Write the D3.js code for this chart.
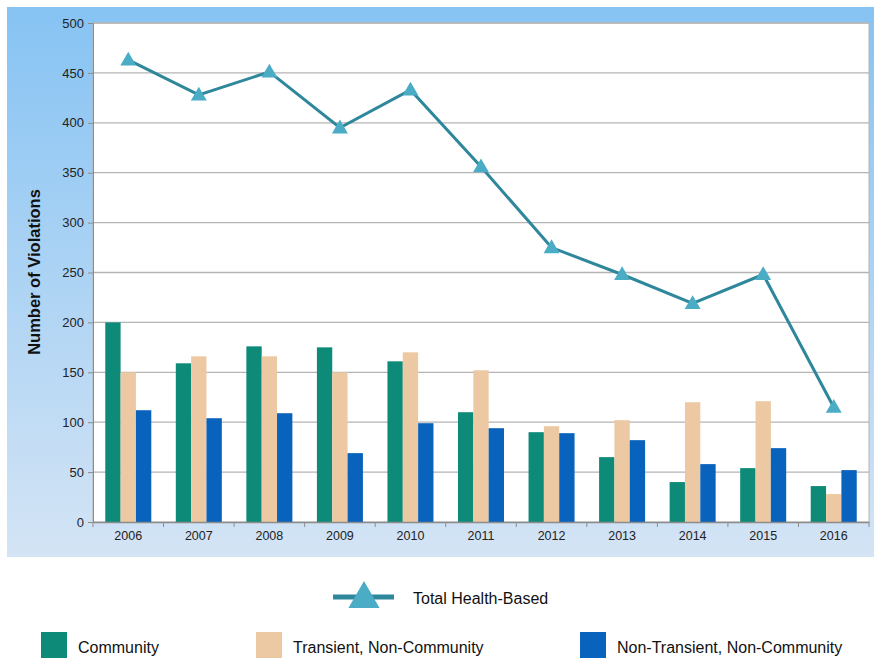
<!DOCTYPE html>
<html>
<head>
<meta charset="utf-8">
<script src="https://cdn.jsdelivr.net/npm/d3@7"></script>
<style>
  body { margin: 0; background: #fff; }
  svg { display: block; font-family: "Liberation Sans", Arial, sans-serif; }
</style>
</head>
<body>
<div id="chart"></div>
<script>
const years = ["2006", "2007", "2008", "2009", "2010", "2011", "2012", "2013", "2014", "2015", "2016"];
const community = [200, 159, 176, 175, 161, 110, 90, 65, 40, 54, 36];
const transient = [150, 166, 166, 150, 170, 152, 96, 102, 120, 121, 28];
const nonTransient = [112, 104, 109, 69, 99, 94, 89, 82, 58, 74, 52];
const totalHealth = [463, 428, 451, 395, 433, 356, 275, 248, 219, 248, 115];
const yTicks = [0, 50, 100, 150, 200, 250, 300, 350, 400, 450, 500];

const seriesNames = ["Community", "Transient, Non-Community", "Non-Transient, Non-Community"];
const seriesColors = ["#0e8a78", "#ecc9a2", "#0962bb"];
const seriesValues = [community, transient, nonTransient];

const width = 874, height = 658;
const plot = {left: 93, right: 869, top: 23, bottom: 522};

const svg = d3.select("#chart").append("svg")
    .attr("width", width)
    .attr("height", height);

const defs = svg.append("defs");
const grad = defs.append("linearGradient")
    .attr("id", "bg")
    .attr("x1", 0).attr("y1", 0).attr("x2", 0).attr("y2", 1);
grad.append("stop").attr("offset", "0%").attr("stop-color", "#86c3f3");
grad.append("stop").attr("offset", "100%").attr("stop-color", "#d4e4f5");

svg.append("rect")
    .attr("x", 7).attr("y", 7)
    .attr("width", width - 7).attr("height", 550)
    .attr("fill", "url(#bg)");

svg.append("rect")
    .attr("x", plot.left).attr("y", plot.top)
    .attr("width", plot.right - plot.left).attr("height", plot.bottom - plot.top)
    .attr("fill", "#fff")
    .attr("stroke", "#b4b4b4");

const x = d3.scaleBand()
    .domain(years)
    .range([plot.left, plot.right]);

const xInner = d3.scaleBand()
    .domain(d3.range(3))
    .range([0, x.bandwidth()])
    .paddingOuter(0.8)
    .paddingInner(0);

const y = d3.scaleLinear()
    .domain([0, 500])
    .range([plot.bottom, plot.top]);

// gridlines
svg.append("g")
    .selectAll("line")
    .data(yTicks.filter(d => d > 0))
    .join("line")
    .attr("x1", plot.left).attr("x2", plot.right)
    .attr("y1", d => y(d)).attr("y2", d => y(d))
    .attr("stroke", "#b4b4b4")
    .attr("stroke-width", 1.3);

// bars
const groups = svg.append("g")
    .selectAll("g")
    .data(years)
    .join("g")
    .attr("transform", d => `translate(${x(d)},0)`);

groups.selectAll("rect")
    .data((d, i) => seriesValues.map((s, k) => ({k: k, v: s[i]})))
    .join("rect")
    .attr("x", d => xInner(d.k))
    .attr("y", d => y(d.v))
    .attr("width", xInner.bandwidth())
    .attr("height", d => y(0) - y(d.v))
    .attr("fill", d => seriesColors[d.k]);

// y axis
const yAxis = svg.append("g")
    .attr("transform", `translate(${plot.left},0)`)
    .call(d3.axisLeft(y).tickValues(yTicks).tickSize(5).tickPadding(4));
yAxis.select(".domain").attr("stroke", "#8c8c8c");
yAxis.selectAll(".tick line").attr("stroke", "#8c8c8c");
yAxis.selectAll("text").attr("font-size", 13).attr("fill", "#222")
    .attr("font-family", "Liberation Sans, Arial, sans-serif");

// x axis
const xAxis = svg.append("g")
    .attr("transform", `translate(0,${plot.bottom})`)
    .call(d3.axisBottom(x).tickSize(0).tickPadding(9));
xAxis.select(".domain").attr("stroke", "#8c8c8c").attr("stroke-width", 1.3);
xAxis.selectAll("text").attr("font-size", 12.5).attr("fill", "#222")
    .attr("font-family", "Liberation Sans, Arial, sans-serif");
xAxis.append("g")
    .selectAll("line")
    .data(years.concat(["end"]))
    .join("line")
    .attr("x1", (d, i) => plot.left + i * x.step())
    .attr("x2", (d, i) => plot.left + i * x.step())
    .attr("y1", 0).attr("y2", 5)
    .attr("stroke", "#8c8c8c");

svg.append("text")
    .attr("transform", `translate(40,272) rotate(-90)`)
    .attr("text-anchor", "middle")
    .attr("font-size", 16.5)
    .attr("font-weight", "bold")
    .attr("fill", "#111")
    .text("Number of Violations");

// total line
const line = d3.line()
    .x((d, i) => x(years[i]) + x.bandwidth() / 2)
    .y(d => y(d));

svg.append("path")
    .datum(totalHealth)
    .attr("d", line)
    .attr("fill", "none")
    .attr("stroke", "#2f879c")
    .attr("stroke-width", 3);

const tri = d3.symbol().type(d3.symbolTriangle).size(110);
svg.append("g")
    .selectAll("path")
    .data(totalHealth)
    .join("path")
    .attr("d", tri)
    .attr("transform", (d, i) => `translate(${x(years[i]) + x.bandwidth() / 2},${y(d) + 1})`)
    .attr("fill", "#4bacc6");

// legend: line
const lg = svg.append("g");
lg.append("line")
    .attr("x1", 333).attr("x2", 394)
    .attr("y1", 597).attr("y2", 597)
    .attr("stroke", "#2f879c")
    .attr("stroke-width", 5);
lg.append("path")
    .attr("d", d3.symbol().type(d3.symbolTriangle).size(420))
    .attr("transform", "translate(364,599)")
    .attr("fill", "#4bacc6");
lg.append("text")
    .attr("x", 413).attr("y", 604)
    .attr("font-size", 16)
    .attr("fill", "#111")
    .text("Total Health-Based");

// legend: bars
const legendX = [41, 256, 580];
const lb = svg.append("g")
    .selectAll("g")
    .data(seriesNames)
    .join("g")
    .attr("transform", (d, i) => `translate(${legendX[i]},632)`);
lb.append("rect")
    .attr("width", 26).attr("height", 26)
    .attr("fill", (d, i) => seriesColors[i]);
lb.append("text")
    .attr("x", 37).attr("y", 21)
    .attr("font-size", 16)
    .attr("fill", "#111")
    .text(d => d);
</script>
</body>
</html>
